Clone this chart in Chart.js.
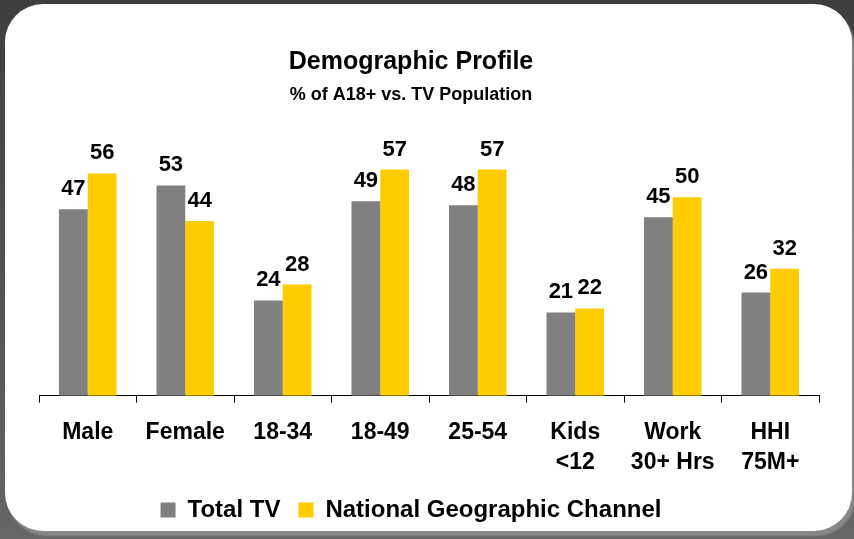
<!DOCTYPE html>
<html>
<head>
<meta charset="utf-8">
<script src="https://cdn.jsdelivr.net/npm/chart.js@4"></script>
<style>
    html, body {
        margin: 0;
        padding: 0;
        width: 854px;
        height: 539px;
        overflow: hidden;
        background: linear-gradient(#3e3e3e, #666666);
    }
    #panel {
        position: absolute;
        left: 5px;
        top: 4px;
        width: 847px;
        height: 527px;
        background: #ffffff;
        border-radius: 38px;
        box-shadow: 3px 5px 2px rgba(140, 140, 140, 0.9);
    }
    #chart {
        position: absolute;
        left: 0;
        top: 0;
    }
</style>
</head>
<body>
<div id="panel"></div>
<canvas id="chart" width="826" height="539"></canvas>
<script>
// Chart data
const categories = ["Male", "Female", "18-34", "18-49", "25-54", ["Kids", "<12"], ["Work", "30+ Hrs"], ["HHI", "75M+"]];
const totalTV = [47, 53, 24, 49, 48, 21, 45, 26];
const natGeo = [56, 44, 28, 57, 57, 22, 50, 32];

const FONT = '"Liberation Sans", Arial, sans-serif';

// Draw the value above each bar
const valueLabels = {
    id: "valueLabels",
    afterDatasetsDraw(chart) {
        const ctx = chart.ctx;
        ctx.save();
        ctx.font = "bold 22px " + FONT;
        ctx.fillStyle = "#000";
        ctx.textAlign = "center";
        ctx.textBaseline = "alphabetic";
        chart.data.datasets.forEach((ds, i) => {
            chart.getDatasetMeta(i).data.forEach((bar, j) => {
                ctx.fillText(ds.data[j], bar.x, bar.y - 14);
            });
        });
        ctx.restore();
    },
};

const ctx = document.getElementById("chart").getContext("2d");

new Chart(ctx, {
    type: "bar",
    data: {
        labels: categories,
        datasets: [
            {
                label: "Total TV",
                data: totalTV,
                backgroundColor: "#808080",
                barPercentage: 1,
                categoryPercentage: 0.59,
            },
            {
                label: "National Geographic Channel",
                data: natGeo,
                backgroundColor: "#FFCC00",
                barPercentage: 1,
                categoryPercentage: 0.59,
            },
        ],
    },
    options: {
        responsive: false,
        animation: false,
        layout: {
            padding: { left: 3, right: 7, top: 0, bottom: 7 },
        },
        plugins: {
            title: {
                display: true,
                text: "Demographic Profile",
                color: "#000",
                font: { family: FONT, size: 25, weight: "bold" },
                padding: { top: 47, bottom: 0 },
            },
            subtitle: {
                display: true,
                text: "% of A18+ vs. TV Population",
                color: "#000",
                font: { family: FONT, size: 18, weight: "bold" },
                padding: { top: 7, bottom: 52 },
            },
            legend: {
                position: "bottom",
                labels: {
                    color: "#000",
                    font: { family: FONT, size: 24, weight: "bold" },
                    boxWidth: 15,
                    boxHeight: 15,
                    padding: 18,
                },
            },
            tooltip: { enabled: false },
        },
        scales: {
            x: {
                grid: {
                    display: true,
                    drawOnChartArea: false,
                    color: "#000",
                    tickLength: 7,
                    offset: true,
                },
                border: { display: true, color: "#000", width: 1 },
                ticks: {
                    color: "#000",
                    font: { family: FONT, size: 23, weight: "bold", lineHeight: 1.31 },
                    padding: 15,
                    maxRotation: 0,
                    autoSkip: false,
                },
                afterFit(scale) {
                    scale.height -= 13;
                },
            },
            y: {
                display: true,
                min: 0,
                max: 60,
                grid: { display: false },
                border: { display: false },
                ticks: { display: false },
                afterFit(scale) {
                    scale.width = 36;
                },
            },
        },
    },
    plugins: [valueLabels],
});
</script>
</body>
</html>
